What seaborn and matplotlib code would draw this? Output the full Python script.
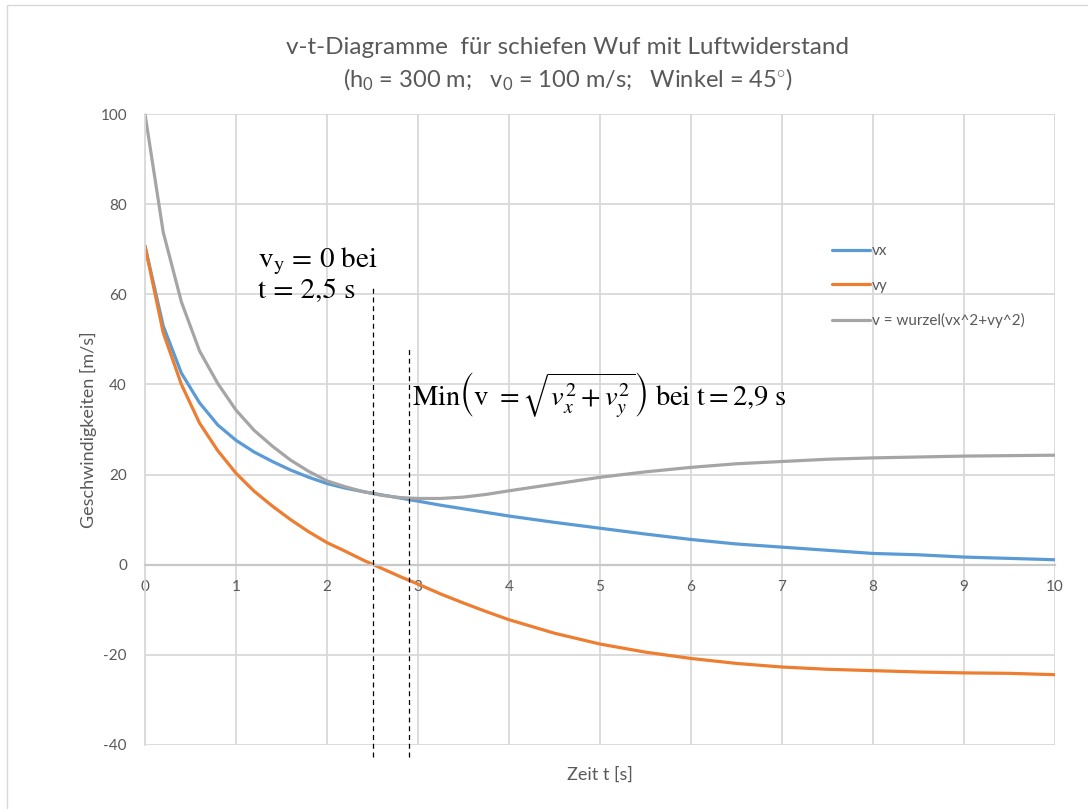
import numpy as np
import pandas as pd
import matplotlib
matplotlib.use("Agg")
import matplotlib.pyplot as plt
from matplotlib.patches import Rectangle
import seaborn as sns

# Zeitpunkte [s]
t = [0, 0.2, 0.4, 0.6, 0.8, 1.0, 1.2, 1.4, 1.6, 1.8, 2.0, 2.2, 2.4, 2.6, 2.8,
     3.0, 3.25, 3.5, 3.75, 4.0, 4.5, 5.0, 5.5, 6.0, 6.5, 7.0, 7.5, 8.0, 8.5,
     9.0, 9.5, 10.0]

# Horizontalgeschwindigkeit [m/s]
vx = [70.7, 53.0, 42.5, 35.9, 31.0, 27.6, 25.0, 22.9, 21.0, 19.4, 18.0, 17.0,
      16.2, 15.5, 14.8, 14.1, 13.2, 12.4, 11.6, 10.8, 9.4, 8.1, 6.8, 5.6, 4.6,
      3.9, 3.2, 2.5, 2.2, 1.7, 1.4, 1.1]

# Vertikalgeschwindigkeit [m/s]
vy = [70.7, 51.5, 40.0, 31.4, 25.3, 20.3, 16.3, 13.0, 10.0, 7.3, 4.9, 3.0,
      1.0, -0.8, -2.6, -4.3, -6.5, -8.5, -10.4, -12.2, -15.2, -17.6, -19.4,
      -20.8, -21.9, -22.7, -23.2, -23.5, -23.8, -24.0, -24.1, -24.4]

# Betrag der Geschwindigkeit [m/s]
v = [100.0, 73.8, 58.3, 47.4, 40.2, 34.3, 29.8, 26.3, 23.2, 20.7, 18.6, 17.3,
     16.2, 15.4, 14.9, 14.7, 14.7, 15.0, 15.6, 16.4, 17.9, 19.4, 20.6, 21.6,
     22.4, 22.9, 23.4, 23.7, 23.9, 24.1, 24.2, 24.3]

series_names = ["vx", "vy", "v = wurzel(vx^2+vy^2)"]
series_colors = ["#5B9BD5", "#ED7D31", "#A5A5A5"]

x_ticks = list(range(0, 11))
y_ticks = [-40, -20, 0, 20, 40, 60, 80, 100]

t_vy_zero = 2.5
t_v_min = 2.9

df = pd.concat([
    pd.DataFrame({"t": t, "Wert": vals, "Reihe": name})
    for name, vals in zip(series_names, [vx, vy, v])
], ignore_index=True)

sns.set_theme(style="whitegrid")
plt.rcParams["font.family"] = ["Lato", "DejaVu Sans"]
plt.rcParams["mathtext.fontset"] = "custom"
plt.rcParams["mathtext.rm"] = "Lato"
plt.rcParams["mathtext.it"] = "Lato:italic"
plt.rcParams["axes.unicode_minus"] = False

W, H = 1088, 809
fig = plt.figure(figsize=(W / 100, H / 100), dpi=100)
fig.patch.set_facecolor("white")
ax = fig.add_axes([145 / W, 1 - 745 / H, 910 / W, 631 / H])

sns.lineplot(data=df, x="t", y="Wert", hue="Reihe", hue_order=series_names,
             palette=series_colors, linewidth=2.3, ax=ax, legend=True,
             sort=False)

grid_c = "#D9D9D9"
text_c = "#595959"
ax.set_xlim(0, 10)
ax.set_ylim(-40, 100)
ax.set_xticks(x_ticks)
ax.set_yticks(y_ticks)
ax.grid(True, color=grid_c, linewidth=1.3)
ax.set_axisbelow(True)
for side in ["top", "right"]:
    ax.spines[side].set_visible(False)
ax.spines["left"].set_color(grid_c)
ax.spines["left"].set_linewidth(1.3)
ax.spines["bottom"].set_position(("data", 0))
ax.spines["bottom"].set_color("#C8C8C8")
ax.spines["bottom"].set_linewidth(1.6)
ax.tick_params(axis="both", length=0, labelsize=11, labelcolor=text_c)
ax.tick_params(axis="x", pad=11)
ax.tick_params(axis="y", pad=13)

ax.set_xlabel("Zeit t [s]", fontsize=13, color=text_c)
ax.xaxis.set_label_coords(0.5, -0.034)
ax.set_ylabel("Geschwindigkeiten [m/s]", fontsize=13, color=text_c)
ax.yaxis.set_label_coords(-0.053, 0.5)

leg = ax.legend(loc="upper left", bbox_to_anchor=(826 / W, 1 - 238 / H),
                bbox_transform=fig.transFigure, frameon=False, fontsize=11,
                handlelength=2.5, handletextpad=0.1, labelspacing=1.35,
                borderaxespad=0)
for txt in leg.get_texts():
    txt.set_color(text_c)

# Hilfslinien bei vy = 0 und beim Minimum von v
ax.plot([t_vy_zero, t_vy_zero], [-42.6, 62.0], color="black", lw=0.9,
        ls=(0, (4, 3)), clip_on=False, zorder=5)
ax.plot([t_v_min, t_v_min], [-42.6, 48.0], color="black", lw=0.9,
        ls=(0, (4, 3)), clip_on=False, zorder=5)

fig.text(258 / W, 1 - 261 / H, r"$\mathrm{v_y}$ = 0 bei", fontsize=21,
         family=["STIXGeneral", "DejaVu Serif"], math_fontfamily="stix",
         va="center", ha="left", color="black")
fig.text(258 / W, 1 - 292 / H, "t = 2,5 s", fontsize=21,
         family=["STIXGeneral", "DejaVu Serif"], va="center", ha="left",
         color="black")
fig.text(412 / W, 1 - 395 / H,
         r"$\mathrm{Min}\left(\mathrm{v}\ =\sqrt{v_x^2 + v_y^2}\right)\ "
         r"\mathrm{bei\ t} = 2{,}9\ \mathrm{s}$",
         fontsize=20.5, math_fontfamily="stix", va="center", ha="left",
         color="black")

fig.text(568 / W, 1 - 47 / H,
         "v-t-Diagramme  für schiefen Wuf mit Luftwiderstand",
         fontsize=17.5, color=text_c, ha="center", va="center")
fig.text(568 / W, 1 - 80 / H,
         r"(h$_0$ = 300 m;   v$_0$ = 100 m/s;   Winkel = 45$^{\circ}$)",
         fontsize=17, color=text_c, ha="center", va="center")

fig.patches.append(Rectangle((7 / W, -0.1), 2.0, 1.1 - 5 / H,
                             transform=fig.transFigure, fill=False,
                             edgecolor="#D9D9D9", linewidth=1.0))

fig.savefig("out.png", dpi=100, facecolor="white")
